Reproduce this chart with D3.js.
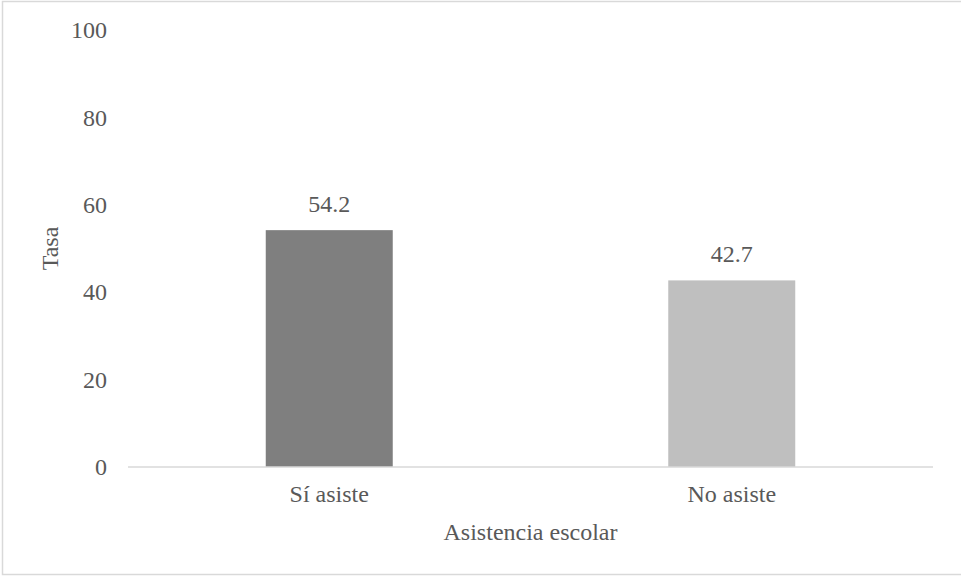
<!DOCTYPE html>
<html>
<head>
<meta charset="utf-8">
<script src="https://cdn.jsdelivr.net/npm/d3@7"></script>
<style>
  html, body { margin: 0; padding: 0; background: #fff; }
  svg { display: block; }
</style>
</head>
<body>
<svg id="chart" width="961" height="577" font-family="'Liberation Serif', serif"></svg>
<script>
// Data
const categories = ["Sí asiste", "No asiste"];
const values = [54.2, 42.7];
const barColors = ["#7f7f7f", "#bfbfbf"];
const yTicks = [0, 20, 40, 60, 80, 100];
const yTitle = "Tasa";
const xTitle = "Asistencia escolar";

const FONT = "'Liberation Serif', serif";
const TEXT_COLOR = "#595959";
const fontSize = 24;

const svg = d3.select("#chart");
const W = 961, H = 577;
const plot = { left: 128, right: 933, top: 30, bottom: 467 };

function styleText(sel) {
  return sel.attr("font-family", FONT)
    .attr("font-size", fontSize)
    .attr("fill", TEXT_COLOR);
}

// Outer frame
svg.append("rect")
  .attr("x", 2.5).attr("y", 1.5)
  .attr("width", W + 10).attr("height", 573)
  .attr("fill", "none").attr("stroke", "#d9d9d9").attr("stroke-width", 1.5);

const x = d3.scaleBand()
  .domain(categories)
  .range([plot.left, plot.right])
  .paddingInner(0.6845)
  .paddingOuter(0.34225);

const y = d3.scaleLinear().domain([0, 100]).range([plot.bottom, plot.top]);

// Y axis labels (no line, no ticks)
const yAxis = d3.axisLeft(y).tickValues(yTicks).tickSize(0).tickPadding(21);
const gy = svg.append("g").attr("transform", `translate(${plot.left},0)`).call(yAxis);
gy.attr("font-family", FONT).attr("font-size", fontSize);
gy.select(".domain").remove();
styleText(gy.selectAll("text"));

// Bars
svg.append("g").selectAll("rect")
  .data(categories)
  .join("rect")
  .attr("x", d => x(d))
  .attr("width", x.bandwidth())
  .attr("y", (d, i) => y(values[i]))
  .attr("height", (d, i) => y(0) - y(values[i]))
  .attr("fill", (d, i) => barColors[i]);

// X axis
const xAxis = d3.axisBottom(x).tickSize(0).tickPadding(18);
const gx = svg.append("g").attr("transform", `translate(0,${plot.bottom})`).call(xAxis);
gx.attr("font-family", FONT).attr("font-size", fontSize);
gx.select(".domain").attr("stroke", "#d9d9d9").attr("stroke-width", 1.5)
  .attr("d", `M${plot.left},0H${plot.right}`);
styleText(gx.selectAll("text"));

// Value labels
styleText(svg.append("g").selectAll("text")
  .data(categories)
  .join("text")
  .attr("x", d => x(d) + x.bandwidth() / 2)
  .attr("y", (d, i) => y(values[i]) - 18)
  .attr("text-anchor", "middle")
  .text((d, i) => values[i].toFixed(1)));

// Axis titles
styleText(svg.append("text")
  .attr("x", (plot.left + plot.right) / 2)
  .attr("y", 540)
  .attr("text-anchor", "middle")
  .text(xTitle));

styleText(svg.append("text")
  .attr("transform", `translate(58,${(plot.top + plot.bottom) / 2}) rotate(-90)`)
  .attr("text-anchor", "middle")
  .text(yTitle));
</script>
</body>
</html>
